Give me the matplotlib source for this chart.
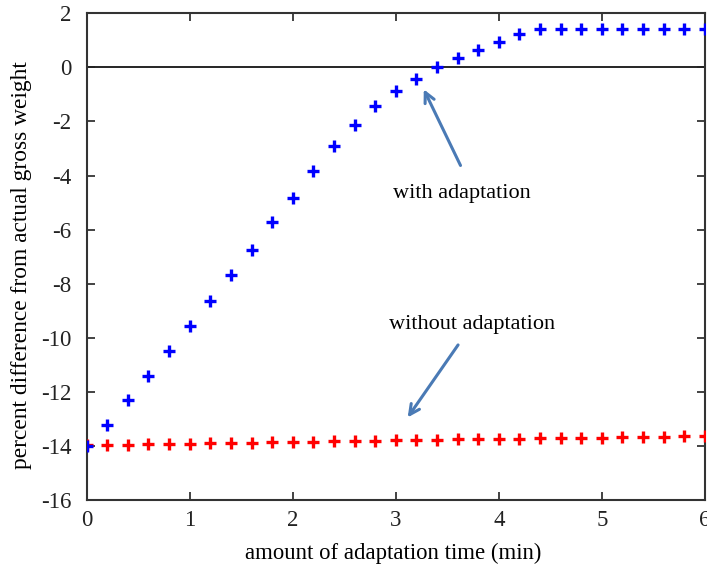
import numpy as np
import matplotlib
matplotlib.use('Agg')
import matplotlib.pyplot as plt

plt.rcParams['font.family'] = ['Liberation Serif', 'DejaVu Serif']
plt.rcParams['axes.unicode_minus'] = False

# adaptation time (min)
t = [0.0, 0.2, 0.4, 0.6, 0.8, 1.0, 1.2, 1.4, 1.6, 1.8, 2.0,
     2.2, 2.4, 2.6, 2.8, 3.0, 3.2, 3.4, 3.6, 3.8, 4.0,
     4.2, 4.4, 4.6, 4.8, 5.0, 5.2, 5.4, 5.6, 5.8, 6.0]

with_adapt = [-14.0, -13.21, -12.29, -11.40, -10.48, -9.55, -8.65, -7.68, -6.75, -5.73, -4.82,
              -3.82, -2.92, -2.13, -1.44, -0.86, -0.42, 0.0, 0.33, 0.65, 0.95,
              1.25, 1.43, 1.43, 1.43, 1.43, 1.43, 1.43, 1.43, 1.43, 1.43]

without_adapt = [-13.98, -13.96, -13.95, -13.94, -13.93, -13.91, -13.90, -13.89, -13.88, -13.87, -13.85,
                 -13.84, -13.83, -13.82, -13.81, -13.79, -13.78, -13.77, -13.76, -13.75, -13.74,
                 -13.73, -13.72, -13.71, -13.70, -13.69, -13.68, -13.67, -13.66, -13.65, -13.65]

fig = plt.figure(figsize=(7.07, 5.71), dpi=100)
ax = fig.add_axes([0.1226, 0.1243, 0.8744, 0.8524])

ax.axhline(0, color='black', lw=1.2, zorder=1)
ax.plot(t, without_adapt, ls='none', marker='+', ms=9, mew=2.4, color='#ff0000', zorder=3)
ax.plot(t, with_adapt, ls='none', marker='+', ms=9, mew=2.4, color='#0000ff', zorder=3)

ax.set_xlim(0, 6)
ax.set_ylim(-16, 2)
ax.set_xticks(range(0, 7))
ax.set_yticks(range(-16, 3, 2))
ax.tick_params(direction='in', length=6, width=1.2, top=True, right=True,
               labelsize=16.5, colors='#222222')
ax.tick_params(axis='x', pad=7)
ax.tick_params(axis='y', pad=11)
for s in ax.spines.values():
    s.set_linewidth(1.5)
    s.set_color('#333333')

ax.set_xlabel('amount of adaptation time (min)', fontsize=16.4, va='center')
ax.xaxis.set_label_coords(0.495, -0.109)
ax.set_ylabel('percent difference from actual gross weight', fontsize=16.8, va='center')
ax.yaxis.set_label_coords(-0.106, 0.483)

arrow_c = '#4a7ab5'
ax.annotate('', xy=(3.26, -0.72), xytext=(3.64, -3.72),
            arrowprops=dict(arrowstyle='->', color=arrow_c, lw=2.2, mutation_scale=18))
ax.text(3.64, -4.67, 'with adaptation', ha='center', va='center', fontsize=16)

ax.annotate('', xy=(3.10, -13.03), xytext=(3.62, -10.18),
            arrowprops=dict(arrowstyle='->', color=arrow_c, lw=2.2, mutation_scale=18))
ax.text(3.74, -9.52, 'without adaptation', ha='center', va='center', fontsize=16)

fig.savefig('out.png', dpi=100)
